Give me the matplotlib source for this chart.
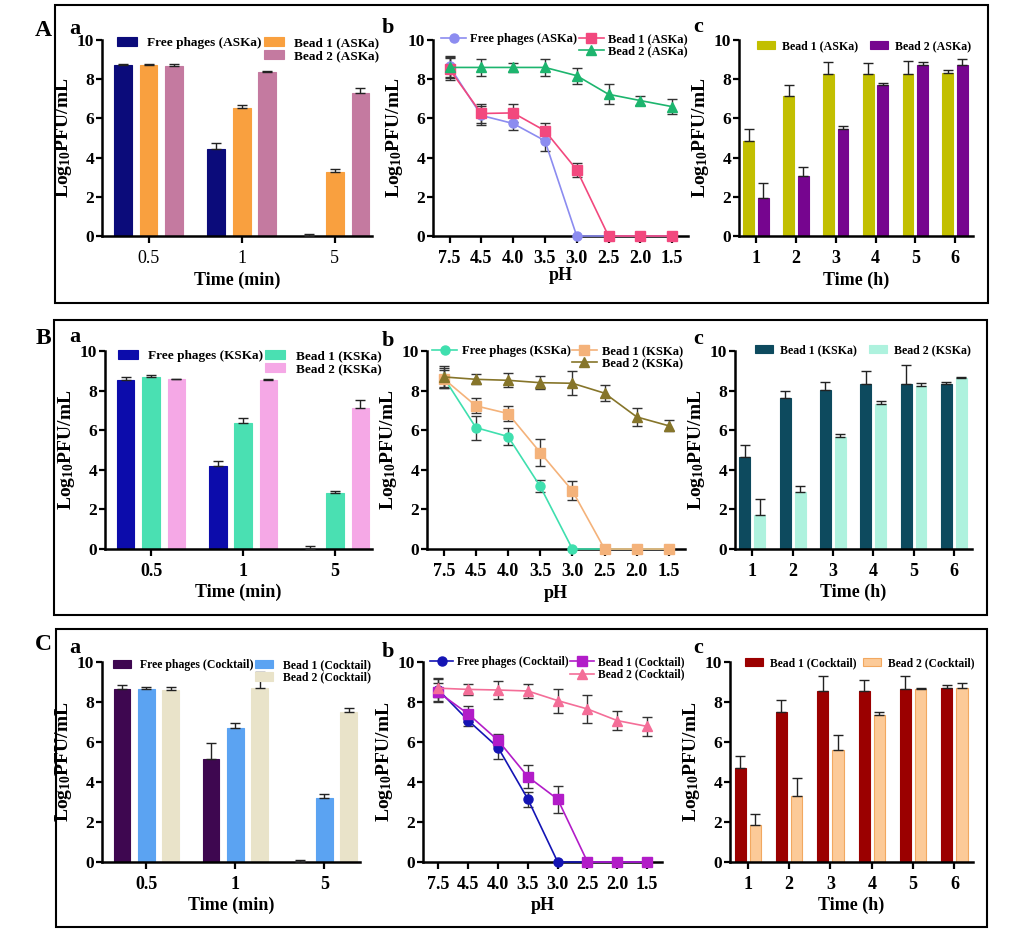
import numpy as np
import matplotlib
matplotlib.use("Agg")
import matplotlib.pyplot as plt
from matplotlib.patches import Rectangle, Patch
from matplotlib.lines import Line2D

plt.rcParams['font.family'] = ['Liberation Serif', 'DejaVu Serif']
plt.rcParams['font.weight'] = 'bold'
plt.rcParams['axes.labelweight'] = 'bold'
plt.rcParams['mathtext.default'] = 'regular'

W, H = 1016, 932  # output size in pixels

# ---- categories ----
TIME_MIN = ["0.5", "1", "5"]
PH = ["7.5", "4.5", "4.0", "3.5", "3.0", "2.5", "2.0", "1.5"]
TIME_H = ["1", "2", "3", "4", "5", "6"]

# ---- row A: ASKa ----
A_FREE_MIN = [8.70, 4.44, 0.0]
A_FREE_MIN_ERR = [0.10, 0.30, 0.08]
A_B1_MIN = [8.70, 6.55, 3.25]
A_B1_MIN_ERR = [0.10, 0.13, 0.15]
A_B2_MIN = [8.68, 8.36, 7.30]
A_B2_MIN_ERR = [0.10, 0.05, 0.24]

A_FREE_PH = [8.65, 6.15, 5.74, 4.86, 0, 0, 0, 0]
A_FREE_PH_ERR = [0.55, 0.50, 0.32, 0.50, 0, 0, 0, 0]
A_B1_PH = [8.51, 6.25, 6.28, 5.37, 3.38, 0, 0, 0]
A_B1_PH_ERR = [0.55, 0.50, 0.45, 0.40, 0.35, 0, 0, 0]
A_B2_PH = [8.60, 8.60, 8.60, 8.60, 8.18, 7.23, 6.91, 6.60]
A_B2_PH_ERR = [0.55, 0.42, 0.25, 0.42, 0.40, 0.50, 0.25, 0.38]

A_B1_H = [4.85, 7.13, 8.26, 8.26, 8.26, 8.31]
A_B1_H_ERR = [0.62, 0.57, 0.63, 0.56, 0.66, 0.14]
A_B2_H = [1.93, 3.04, 5.44, 7.72, 8.72, 8.72]
A_B2_H_ERR = [0.77, 0.47, 0.17, 0.07, 0.18, 0.33]

# ---- row B: KSKa ----
B_FREE_MIN = [8.55, 4.20, 0.0]
B_FREE_MIN_ERR = [0.13, 0.23, 0.17]
B_B1_MIN = [8.68, 6.36, 2.85]
B_B1_MIN_ERR = [0.10, 0.25, 0.07]
B_B2_MIN = [8.58, 8.55, 7.13]
B_B2_MIN_ERR = [0.03, 0.03, 0.41]

B_FREE_PH = [8.66, 6.13, 5.68, 3.16, 0, 0, 0, 0]
B_FREE_PH_ERR = [0.50, 0.60, 0.45, 0.30, 0, 0, 0, 0]
B_B1_PH = [8.60, 7.23, 6.84, 4.87, 2.94, 0, 0, 0]
B_B1_PH_ERR = [0.45, 0.38, 0.39, 0.68, 0.49, 0, 0, 0]
B_B2_PH = [8.69, 8.57, 8.52, 8.40, 8.37, 7.87, 6.67, 6.22]
B_B2_PH_ERR = [0.55, 0.25, 0.35, 0.33, 0.60, 0.40, 0.45, 0.28]

B_B1_H = [4.64, 7.62, 8.04, 8.35, 8.35, 8.35]
B_B1_H_ERR = [0.62, 0.36, 0.38, 0.63, 0.92, 0.10]
B_B2_H = [1.72, 2.89, 5.65, 7.31, 8.21, 8.62]
B_B2_H_ERR = [0.81, 0.31, 0.15, 0.16, 0.17, 0.09]

# ---- row C: Cocktail ----
C_FREE_MIN = [8.63, 5.13, 0.0]
C_FREE_MIN_ERR = [0.23, 0.80, 0.10]
C_B1_MIN = [8.65, 6.72, 3.22]
C_B1_MIN_ERR = [0.10, 0.23, 0.17]
C_B2_MIN = [8.60, 8.72, 7.50]
C_B2_MIN_ERR = [0.15, 0.78, 0.18]

C_FREE_PH = [8.60, 7.07, 5.72, 3.14, 0, 0, 0, 0]
C_FREE_PH_ERR = [0.60, 0.25, 0.55, 0.38, 0, 0, 0, 0]
C_B1_PH = [8.48, 7.40, 6.08, 4.26, 3.14, 0, 0, 0]
C_B1_PH_ERR = [0.45, 0.38, 0.30, 0.57, 0.68, 0, 0, 0]
C_B2_PH = [8.69, 8.63, 8.60, 8.55, 8.07, 7.65, 7.07, 6.78]
C_B2_PH_ERR = [0.45, 0.27, 0.43, 0.33, 0.60, 0.68, 0.48, 0.48]

C_B1_H = [4.68, 7.50, 8.55, 8.55, 8.64, 8.69]
C_B1_H_ERR = [0.63, 0.60, 0.77, 0.56, 0.68, 0.17]
C_B2_H = [1.87, 3.32, 5.59, 7.33, 8.67, 8.69]
C_B2_H_ERR = [0.55, 0.90, 0.78, 0.15, 0.05, 0.25]

YLABEL = 'Log$_{10}$PFU/mL'


def px_axes(fig, x0, x1, y0, y1):
    """Axes from pixel box (left, right, top, bottom)."""
    ax = fig.add_axes([x0 / W, 1 - y1 / H, (x1 - x0) / W, (y1 - y0) / H])
    ax._px = (x1 - x0, y1 - y0)
    return ax


def style(ax, cats, xlim, xlabel, xlab_off, xtick_weight='bold'):
    ax.set_ylim(0, 10)
    ax.set_yticks(range(0, 11, 2))
    ax.set_xlim(*xlim)
    ax.set_xticks(range(len(cats)))
    ax.set_xticklabels(cats, fontweight=xtick_weight)
    for s in ('top', 'right'):
        ax.spines[s].set_visible(False)
    for s in ('left', 'bottom'):
        ax.spines[s].set_linewidth(1.8)
    ax.tick_params(axis='x', direction='out', length=5, width=1.6, labelsize=13, pad=5)
    ax.tick_params(axis='y', direction='out', length=4, width=1.6, labelsize=12.5, pad=1.5)
    wpx, hpx = ax._px
    ax.set_ylabel(YLABEL, fontsize=14)
    ax.yaxis.set_label_coords(-28 / wpx, 0.5)
    ax.set_xlabel(xlabel, fontsize=13)
    ax.xaxis.set_label_coords(0.5, -xlab_off / hpx)
    ax.xaxis.label.set_verticalalignment('center')


def leg(ax, handles, labels, ncol, x, y, colsp, size=9.5, hl=1.5, htp=0.8):
    ax.legend(handles, labels, ncol=ncol, loc='upper left', frameon=False,
              bbox_to_anchor=(x / W, 1 - y / H), bbox_transform=ax.figure.transFigure,
              borderpad=0, borderaxespad=0, handlelength=hl,
              handleheight=0.7, handletextpad=htp, columnspacing=colsp,
              labelspacing=0.05, prop={'weight': 'bold', 'size': size})


def bar_panel(ax, series, errs, colors, width, step, edges=None):
    x = np.arange(len(series[0]))
    n = len(series)
    handles = []
    for i, (vals, err, col) in enumerate(zip(series, errs, colors)):
        off = (i - (n - 1) / 2) * step
        ec = edges[i] if edges else col
        b = ax.bar(x + off, vals, width, color=col, edgecolor=ec, linewidth=0.8, zorder=2)
        ax.errorbar(x + off, vals, yerr=[np.zeros(len(err)), err], fmt='none',
                    ecolor='#222222', elinewidth=1, capsize=3.5, capthick=1, zorder=3)
        handles.append(b)
    return handles


def line_panel(ax, series, errs, colors, markers):
    x = np.arange(len(series[0]))
    handles = []
    for vals, err, col, mk in zip(series, errs, colors, markers):
        ax.errorbar(x, vals, yerr=err, fmt='none', ecolor='#333333',
                    elinewidth=1, capsize=3.5, capthick=1, zorder=3)
        h, = ax.plot(x, vals, color=col, marker=mk, markersize=6.5, lw=1.2,
                     clip_on=False, zorder=4)
        handles.append(h)
    return handles


fig = plt.figure(figsize=(W / 100, H / 100), dpi=100)

rows = [
    dict(tag='ASKa', top=40, bot=236,
         a_box=(102, 372), b_box=(433, 688), c_box=(739, 973),
         a=(A_FREE_MIN, A_B1_MIN, A_B2_MIN), a_err=(A_FREE_MIN_ERR, A_B1_MIN_ERR, A_B2_MIN_ERR),
         a_col=('#0b0b7a', '#f9a03f', '#c47aa0'),
         b=(A_FREE_PH, A_B1_PH, A_B2_PH), b_err=(A_FREE_PH_ERR, A_B1_PH_ERR, A_B2_PH_ERR),
         b_col=('#8c8cf0', '#f2487e', '#1db56e'),
         c=(A_B1_H, A_B2_H), c_err=(A_B1_H_ERR, A_B2_H_ERR),
         c_col=('#c2bf00', '#76058f'), c_edge=None,
         leg_a=(117, 37), leg_b=(441, 33), leg_c=(757, 40),
         leg_size=(9.5, 9.0, 8.6), c_colsp=1.0,
         letter=('A', 30), sub=(29, 28, 27), box=(55, 988, 5, 303),
         xoff=(44, 40, 44), a_tickw='normal'),
    dict(tag='KSKa', top=351, bot=549,
         a_box=(105, 372), b_box=(427, 685), c_box=(735, 972),
         a=(B_FREE_MIN, B_B1_MIN, B_B2_MIN), a_err=(B_FREE_MIN_ERR, B_B1_MIN_ERR, B_B2_MIN_ERR),
         a_col=('#0c0cab', '#4ae0b2', '#f5a8e6'),
         b=(B_FREE_PH, B_B1_PH, B_B2_PH), b_err=(B_FREE_PH_ERR, B_B1_PH_ERR, B_B2_PH_ERR),
         b_col=('#3fdfae', '#f4b27a', '#86752a'),
         c=(B_B1_H, B_B2_H), c_err=(B_B1_H_ERR, B_B2_H_ERR),
         c_col=('#0d4a5e', '#aef2de'), c_edge=None,
         leg_a=(118, 350), leg_b=(432, 345), leg_c=(755, 344),
         leg_size=(9.5, 9.1, 8.6), c_colsp=1.0,
         letter=('B', 339), sub=(337, 341, 339), box=(54, 987, 320, 615),
         xoff=(43, 44, 43), a_tickw='bold'),
    dict(tag='Cocktail', top=662, bot=862,
         a_box=(102, 360), b_box=(423, 662), c_box=(730, 973),
         a=(C_FREE_MIN, C_B1_MIN, C_B2_MIN), a_err=(C_FREE_MIN_ERR, C_B1_MIN_ERR, C_B2_MIN_ERR),
         a_col=('#3e0750', '#5ba3f2', '#e9e3c9'),
         b=(C_FREE_PH, C_B1_PH, C_B2_PH), b_err=(C_FREE_PH_ERR, C_B1_PH_ERR, C_B2_PH_ERR),
         b_col=('#1414b4', '#b21cc8', '#f46e98'),
         c=(C_B1_H, C_B2_H), c_err=(C_B1_H_ERR, C_B2_H_ERR),
         c_col=('#9b0000', '#fcca98'), c_edge=('#9b0000', '#f2a860'),
         leg_a=(113, 659), leg_b=(430, 656), leg_c=(745, 657),
         leg_size=(8.5, 8.4, 8.4), c_colsp=0.6,
         letter=('C', 645), sub=(648, 652, 648), box=(56, 987, 629, 927),
         xoff=(43, 43, 43), a_tickw='bold'),
]

for r in rows:
    tag = r['tag']
    lab3 = [f'Free phages ({tag})', f'Bead 1 ({tag})', f'Bead 2 ({tag})']
    sa, sb, sc = r['leg_size']

    # panel a: short-time stability
    ax = px_axes(fig, *r['a_box'], r['top'], r['bot'])
    h = bar_panel(ax, r['a'], r['a_err'], r['a_col'], 0.19, 0.275)
    style(ax, TIME_MIN, (-0.5, 2.4), 'Time (min)', r['xoff'][0], r['a_tickw'])
    blank = Patch(visible=False)
    leg(ax, [h[0], blank, h[1], h[2]], [lab3[0], '', lab3[1], lab3[2]], 2, *r['leg_a'],
        0.15, size=sa)

    # panel b: pH stability
    ax = px_axes(fig, *r['b_box'], r['top'], r['bot'])
    h = line_panel(ax, r['b'], r['b_err'], r['b_col'], ('o', 's', '^'))
    style(ax, PH, (-0.52, 7.5), 'pH', r['xoff'][1])
    blank = Line2D([], [], linestyle='none')
    leg(ax, [h[0], blank, h[1], h[2]], [lab3[0], '', lab3[1], lab3[2]], 2, *r['leg_b'],
        0.1, size=sb, hl=2.0, htp=0.35)

    # panel c: release over time
    ax = px_axes(fig, *r['c_box'], r['top'], r['bot'])
    h = bar_panel(ax, r['c'], r['c_err'], r['c_col'], 0.27, 0.37, r['c_edge'])
    style(ax, TIME_H, (-0.43, 5.45), 'Time (h)', r['xoff'][2])
    leg(ax, h, lab3[1:], 2, *r['leg_c'], r['c_colsp'], size=sc, htp=0.6)

    # letters and frame
    fig.text(43 / W, 1 - r['letter'][1] / H, r['letter'][0], fontsize=17,
             fontweight='bold', ha='center', va='center')
    for xpx, ypx, ch in zip((75, 388, 698), r['sub'], 'abc'):
        fig.text(xpx / W, 1 - ypx / H, ch, fontsize=16, fontweight='bold',
                 ha='center', va='center')
    x0, x1, y0, y1 = r['box']
    fig.patches.append(Rectangle((x0 / W, 1 - y1 / H), (x1 - x0) / W, (y1 - y0) / H,
                                 transform=fig.transFigure, fill=False,
                                 edgecolor='black', linewidth=1.5))

fig.savefig('out.png', dpi=100)
